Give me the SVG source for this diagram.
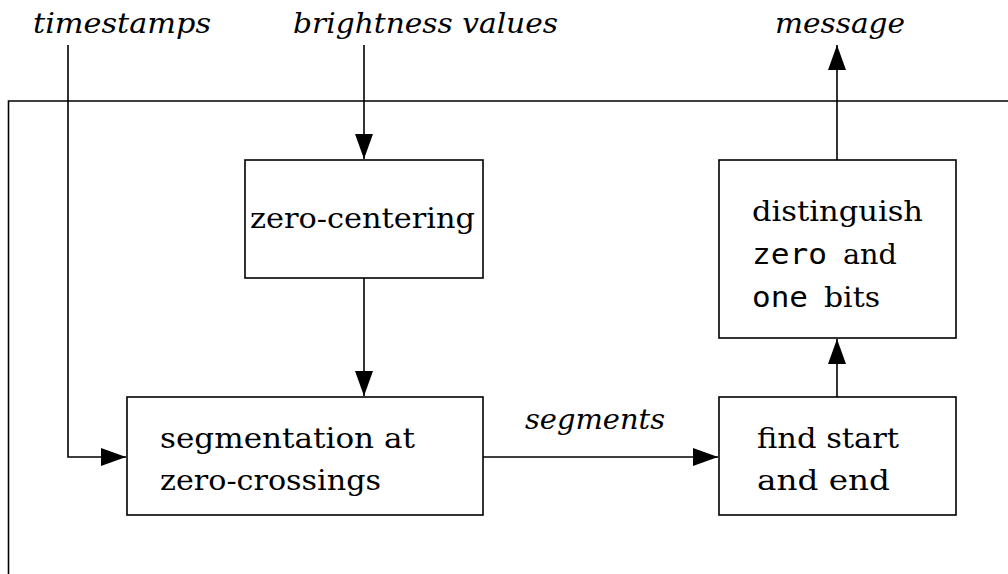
<svg xmlns="http://www.w3.org/2000/svg" width="1008" height="574" viewBox="0 0 1008 574">
  <style>
    .box { fill: #fff; stroke: #000; stroke-width: 1.6; }
    .wire { fill: none; stroke: #000; stroke-width: 1.6; }
  </style>
  <defs>
    <marker id="arrow" markerUnits="userSpaceOnUse" markerWidth="26" markerHeight="20" refX="25" refY="9" orient="auto">
      <path d="M0,0 L25,9 L0,18 z" fill="#000"/>
    </marker>
  </defs>

  <!-- enclosing frame (open at right and bottom) -->
  <path class="wire" d="M8.5,574 V101 H1008"/>

  <!-- connectors -->
  <g id="connectors">
    <path class="wire" d="M68,45 V457 H126" marker-end="url(#arrow)"/>
    <path class="wire" d="M364,45 V159" marker-end="url(#arrow)"/>
    <path class="wire" d="M364,278 V396" marker-end="url(#arrow)"/>
    <path class="wire" d="M483,457 H718" marker-end="url(#arrow)"/>
    <path class="wire" d="M837,397 V339" marker-end="url(#arrow)"/>
    <path class="wire" d="M837,160 V45" marker-end="url(#arrow)"/>
  </g>

  <g font-family="DejaVu Serif, serif" font-size="27.5" fill="#000">
    <!-- external labels -->
    <g id="labels" font-style="italic">
      <text x="33" y="33" textLength="178" lengthAdjust="spacingAndGlyphs">timestamps</text>
      <text x="293" y="33" textLength="265" lengthAdjust="spacingAndGlyphs">brightness values</text>
      <text x="775" y="33" textLength="130" lengthAdjust="spacingAndGlyphs">message</text>
      <text x="525" y="429" textLength="140" lengthAdjust="spacingAndGlyphs">segments</text>
    </g>

    <g id="zero-centering">
      <rect class="box" x="245" y="160" width="238" height="118"/>
      <text x="250" y="228" textLength="225" lengthAdjust="spacingAndGlyphs">zero-centering</text>
    </g>

    <g id="segmentation">
      <rect class="box" x="127" y="397" width="356" height="118"/>
      <text x="160" y="448" textLength="255" lengthAdjust="spacingAndGlyphs">segmentation at</text>
      <text x="160" y="490" textLength="221" lengthAdjust="spacingAndGlyphs">zero-crossings</text>
    </g>

    <g id="find-start-end">
      <rect class="box" x="719" y="397" width="237" height="118"/>
      <text x="757" y="448" textLength="142" lengthAdjust="spacingAndGlyphs">find start</text>
      <text x="757" y="490" textLength="133" lengthAdjust="spacingAndGlyphs">and end</text>
    </g>

    <g id="distinguish-bits">
      <rect class="box" x="719" y="160" width="237" height="178"/>
      <text x="752" y="221" textLength="171" lengthAdjust="spacingAndGlyphs">distinguish</text>
      <text x="752" y="264" font-family="DejaVu Sans Mono, monospace" textLength="75" lengthAdjust="spacingAndGlyphs">zero</text>
      <text x="843" y="264" textLength="54" lengthAdjust="spacingAndGlyphs">and</text>
      <text x="752" y="307" font-family="DejaVu Sans Mono, monospace" textLength="56" lengthAdjust="spacingAndGlyphs">one</text>
      <text x="824" y="307" textLength="56" lengthAdjust="spacingAndGlyphs">bits</text>
    </g>
  </g>
</svg>
